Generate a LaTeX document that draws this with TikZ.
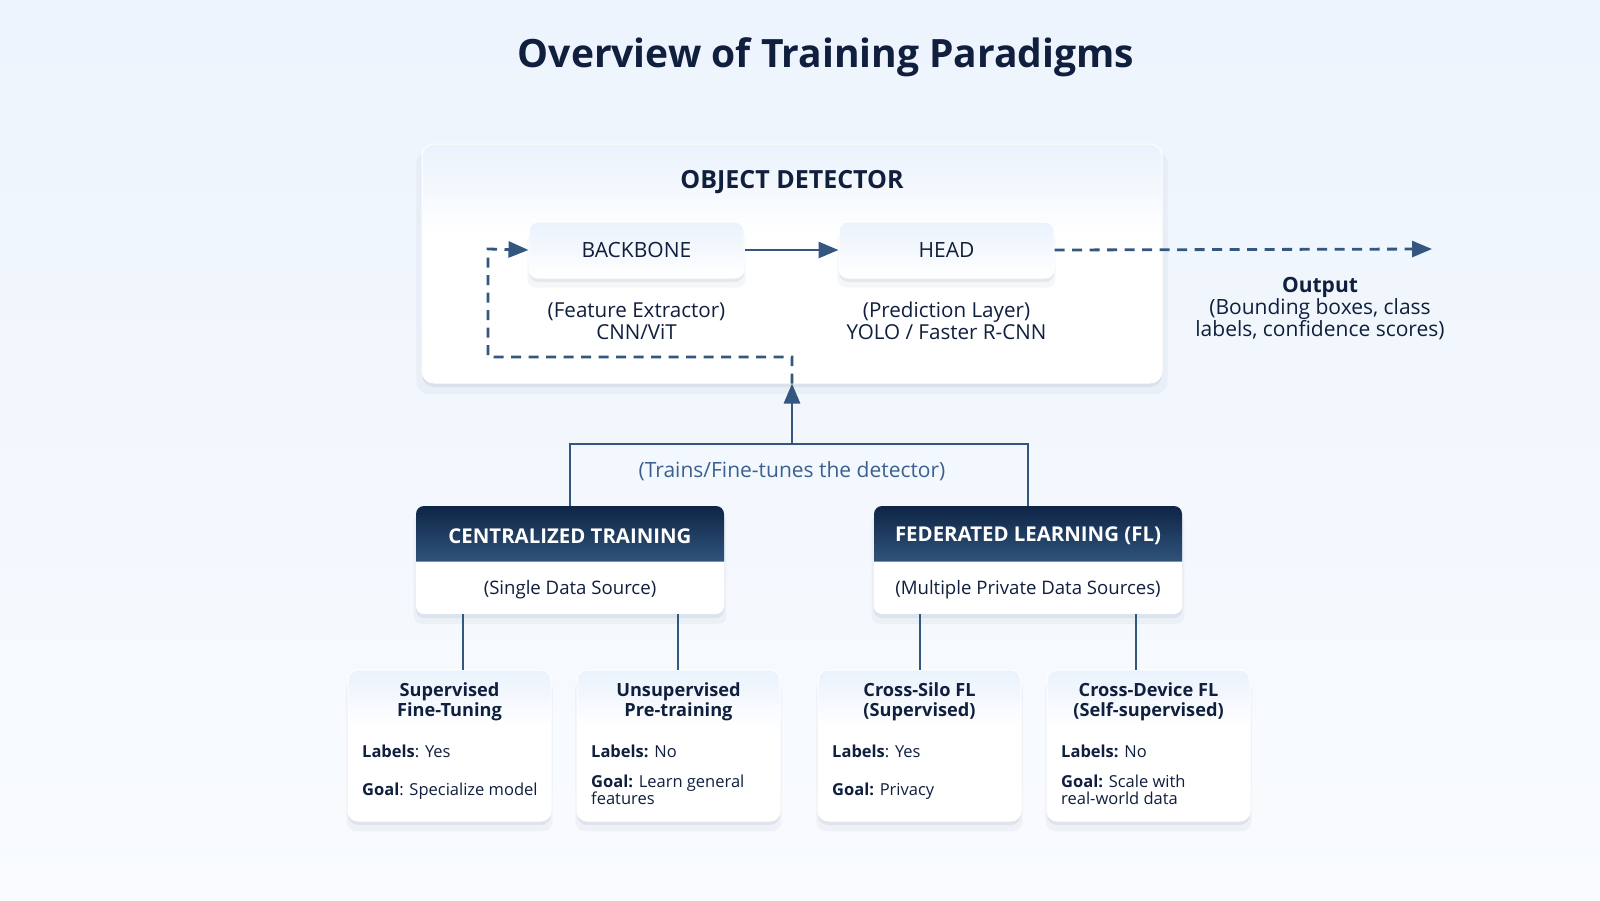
\documentclass[tikz,border=0pt]{standalone}
\usepackage{fontspec}
\setmainfont{Open Sans}
\usetikzlibrary{arrows.meta,shadows,calc}
\definecolor{ink}{HTML}{0F1F3D}
\definecolor{edge}{HTML}{34577F}
\definecolor{lbl}{HTML}{3B6090}
\definecolor{bgtop}{HTML}{EDF4FD}
\definecolor{bgbot}{HTML}{F9FBFE}
\definecolor{paletop}{HTML}{EAF2FC}
\definecolor{hdrtop}{HTML}{0E2545}
\definecolor{hdrbot}{HTML}{30537B}
\definecolor{shadowc}{HTML}{5A7090}
\pgfdeclareverticalshading{cardsh}{100bp}{color(0bp)=(white); color(25bp)=(white); color(56bp)=(white); color(75bp)=(paletop); color(100bp)=(paletop)}
\pgfdeclareverticalshading{boxsh}{100bp}{color(0bp)=(white); color(25bp)=(white); color(75bp)=(paletop); color(100bp)=(paletop)}
\pgfdeclareverticalshading{hdrsh}{100bp}{color(0bp)=(white); color(25bp)=(white); color(49.4bp)=(white); color(49.6bp)=(hdrbot); color(75bp)=(hdrtop); color(100bp)=(hdrtop)}
\newcommand{\fs}[2][0]{\fontsize{#2}{#2}\selectfont}
\newcommand{\fsb}[2]{\fontsize{#1}{#2}\selectfont}
\tikzset{
  softshadow/.style={
    drop shadow={shadow xshift=0pt,shadow yshift=-4pt,opacity=0.10,fill=shadowc},
    drop shadow={shadow xshift=0pt,shadow yshift=-9pt,shadow scale=1.015,opacity=0.06,fill=shadowc}},
  panel/.style={rounded corners=12pt,shading=cardsh,softshadow,inner sep=0pt,draw=white,line width=1pt},
  module/.style={rounded corners=9pt,shading=boxsh,softshadow,inner sep=0pt,minimum width=215pt,minimum height=56pt,draw=white,line width=1pt,text=ink,font=\fs{21}},
  group/.style={rounded corners=8pt,shading=hdrsh,softshadow,inner sep=0pt,minimum width=308pt,minimum height=108pt},
  card/.style={rounded corners=10pt,shading=cardsh,softshadow,inner sep=0pt,minimum width=203pt,minimum height=151pt,draw=white,line width=1pt},
  conn/.style={draw=edge,line width=2.8pt},
  dconn/.style={draw=edge,line width=2.8pt,dash pattern=on 10pt off 7.5pt},
  tip/.style={-{Triangle[length=20pt,width=16pt]}},
  txt/.style={text=ink,inner sep=0pt},
  ctitle/.style={txt,font=\bfseries\fsb{18.2}{20.5},align=center},
  cbody/.style={txt,font=\fsb{16.5}{17.5},anchor=west,align=left},
}
\begin{document}
\begin{tikzpicture}[x=1pt,y=-1pt]
\useasboundingbox (0,0) rectangle (1600,900);
\fill[top color=bgtop,bottom color=bgbot] (0,0) rectangle (1600,900);

\node[txt,font=\bfseries\fs{39}] (title) at (826,57) {Overview of Training Paradigms};

% object detector panel
\node[panel,minimum width=740pt,minimum height=239pt] (od) at (792,263.5) {};
\node[txt,font=\bfseries\fs{25}] (odt) at (792,182) {OBJECT DETECTOR};
\node[module] (bb) at (636.5,250) {BACKBONE};
\node[module] (head) at (946.5,250) {HEAD};
\node[txt,font=\fsb{20.6}{22.5},align=center] (bbd) at (636.5,321) {(Feature Extractor)\\CNN/ViT};
\node[txt,font=\fsb{20.6}{22.5},align=center] (hdd) at (946.5,321) {(Prediction Layer)\\YOLO / Faster R-CNN};
\node[txt,font=\fsb{21}{22},align=center] (out) at (1320,309) {\textbf{Output}\\(Bounding boxes, class\\labels, confidence scores)};

\coordinate (outend) at (1432,249);
\draw[conn,tip] (bb.east) -- (head.west);
\draw[dconn,tip] (head.east) -- (outend);

\coordinate (fbA) at (792,357);
\coordinate (fbB) at (488,357);
\coordinate (fbC) at (488,249);
\draw[dconn,tip] (od.south) -- (fbA) -- (fbB) -- (fbC) -- (bb.west);

% groups
\node[group] (ct) at (570,560) {};
\node[group] (fl) at (1028,560) {};
\node[txt,text=white,font=\bfseries\fs{20.4}] (ctT) at (570,536) {CENTRALIZED TRAINING};
\node[txt,font=\fs{18.6}] (ctS) at (570,589.5) {(Single Data Source)};
\node[txt,text=white,font=\bfseries\fs{20.4}] (flT) at (1028,536) {FEDERATED LEARNING (FL)};
\node[txt,font=\fs{18.6}] (flS) at (1028,589.5) {(Multiple Private Data Sources)};

\coordinate (bus) at (792,444);
\draw[conn] (ct.north) |- (bus) -| (fl.north);
\draw[conn,tip] (bus) -- (od.south);
\node[txt,text=lbl,font=\fs{21}] (trains) at (792,471) {(Trains/Fine-tunes the detector)};

% cards
\node[card] (c1) at (449.5,745.5) {};
\node[card] (c2) at (678.5,745.5) {};
\node[card] (c3) at (919.5,745.5) {};
\node[card] (c4) at (1148.5,745.5) {};

\draw[conn] ($(ct.south)+(-107,0)$) coordinate (l1) -- (l1 |- c1.north);
\draw[conn] ($(ct.south)+(108,0)$) coordinate (l2) -- (l2 |- c2.north);
\draw[conn] ($(fl.south)+(-108,0)$) coordinate (l3) -- (l3 |- c3.north);
\draw[conn] ($(fl.south)+(108,0)$) coordinate (l4) -- (l4 |- c4.north);

\node[ctitle] (c1t) at (449.5,702) {Supervised\\Fine-Tuning};
\node[ctitle] (c2t) at (678.5,702) {Unsupervised\\Pre-training};
\node[ctitle] (c3t) at (919.5,702) {Cross-Silo FL\\(Supervised)};
\node[ctitle] (c4t) at (1148.5,702) {Cross-Device FL\\(Self-supervised)};

\node[cbody] (c1a) at (362,751) {\textbf{Labels}: Yes};
\node[cbody] (c1b) at (362,791) {\textbf{Goal}: Specialize model};
\node[cbody] (c2a) at (591,751) {\textbf{Labels:} No};
\node[cbody] (c2b) at (591,790) {\textbf{Goal:} Learn general\\features};
\node[cbody] (c3a) at (832,751) {\textbf{Labels}: Yes};
\node[cbody] (c3b) at (832,791) {\textbf{Goal:} Privacy};
\node[cbody] (c4a) at (1061,751) {\textbf{Labels:} No};
\node[cbody] (c4b) at (1061,790) {\textbf{Goal:} Scale with\\real-world data};
\end{tikzpicture}
\end{document}
